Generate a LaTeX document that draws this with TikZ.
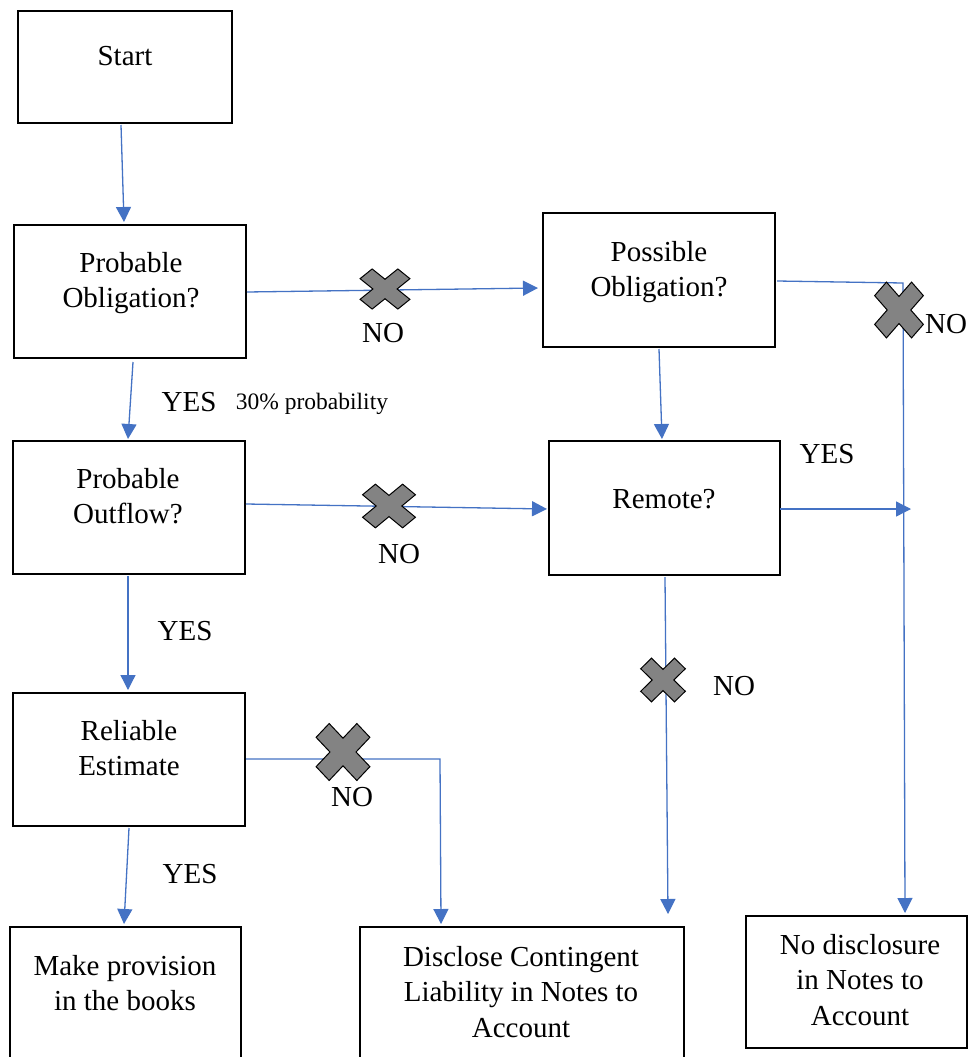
\documentclass[tikz,border=0pt]{standalone}
\usepackage{fontspec}
\setmainfont{Liberation Serif}
\usetikzlibrary{arrows.meta,calc}
\definecolor{conblue}{HTML}{4472C4}
\definecolor{crossgray}{HTML}{838383}
\newcommand{\ml}[1]{\begin{tabular}[t]{@{}c@{}}#1\end{tabular}}
\tikzset{
  box/.style={draw=black, line width=2.6pt, rectangle, outer sep=0pt, inner sep=0pt, fill=white},
  btxt/.style={anchor=base, inner sep=0pt, font=\fontsize{29}{35.5}\selectfont},
  lbl/.style={anchor=base, inner sep=0pt, font=\fontsize{29}{35}\selectfont},
  smalllbl/.style={anchor=base, inner sep=0pt, font=\fontsize{23.5}{28}\selectfont},
  conn/.style={draw=conblue, line width=1.3pt},
  arr/.style={conn, -{Triangle[length=15pt,width=15pt]}},
  nocross/.pic={
    \filldraw[fill=crossgray, draw=black, line width=1pt, rotate=45]
      (0.32,1) -- (0.32,0.32) -- (1,0.32) -- (1,-0.32) -- (0.32,-0.32) -- (0.32,-1)
      -- (-0.32,-1) -- (-0.32,-0.32) -- (-1,-0.32) -- (-1,0.32) -- (-0.32,0.32) -- (-0.32,1) -- cycle;
  }
}
\begin{document}
\begin{tikzpicture}[x=1pt,y=-1pt]
\useasboundingbox (0,0) rectangle (970,1057);
\clip (0,0) rectangle (970,1057);
\fill[white] (0,0) rectangle (970,1057);

% boxes
\node[box, minimum width=214pt, minimum height=112pt] (start) at (125,67) {};
\node[box, minimum width=232pt, minimum height=133pt] (po) at (130,291.5) {};
\node[box, minimum width=232pt, minimum height=134pt] (pso) at (659,280) {};
\node[box, minimum width=232pt, minimum height=133pt] (pout) at (129,507.5) {};
\node[box, minimum width=231pt, minimum height=134pt] (rem) at (664.5,508) {};
\node[box, minimum width=232pt, minimum height=133pt] (rel) at (129,759.5) {};
\node[box, minimum width=231pt, minimum height=153pt] (mk) at (125.5,1003.5) {};
\node[box, minimum width=324pt, minimum height=153pt] (dis) at (522,1003.5) {};
\node[box, minimum width=221pt, minimum height=132pt] (nod) at (856.5,982) {};

% box texts
\node[btxt] (start-t) at (125,66) {Start};
\node[btxt] (po-t) at (131,272) {\ml{Probable\\Obligation?}};
\node[btxt] (pso-t) at (659,261) {\ml{Possible\\Obligation?}};
\node[btxt] (pout-t) at (128,488) {\ml{Probable\\Outflow?}};
\node[btxt] (rem-t) at (664,508) {Remote?};
\node[btxt] (rel-t) at (129,740) {\ml{Reliable\\Estimate}};
\node[btxt] (mk-t) at (125,975) {\ml{Make provision\\in the books}};
\node[btxt] (dis-t) at (521,966) {\ml{Disclose Contingent\\Liability in Notes to\\Account}};
\node[btxt] (nod-t) at (860,954) {\ml{No disclosure\\in Notes to\\Account}};

% connector corners
\coordinate (c1) at (903,283);
\coordinate (yesend) at (911,509);
\coordinate (c2) at (440,759);

% connectors
\draw[arr] ($(start.south)+(-4,2)$) -- ($(po.north)+(-6,-3)$);
\draw[arr] ($(po.east)+(1,0.5)$) -- ($(pso.west)+(-5,8)$);
\draw[arr] ($(po.south)+(3,4)$) -- ($(pout.north)+(-1,-2)$);
\draw[arr] ($(pso.south)+(0,2)$) -- ($(rem.north)+(-2.5,-2)$);
\draw[arr] ($(pso.east)+(2,1)$) -- (c1) -- ($(nod.north)+(48.5,-3)$);
\draw[arr] ($(pout.east)+(1,-3.5)$) -- ($(rem.west)+(-2,1)$);
\draw[arr] ($(rem.east)+(0,1)$) -- (yesend);
\draw[arr] ($(rem.south)+(0.5,2)$) -- ($(dis.north)+(146,-13)$);
\draw[arr] ($(pout.south)+(-1,2)$) -- ($(rel.north)+(-1,-3)$);
\draw[arr] ($(rel.east)+(1,-0.5)$) -- (c2) -- ($(dis.north)+(-81,-3)$);
\draw[arr] ($(rel.south)+(0,2)$) -- ($(mk.north)+(-1.5,-3)$);

% crosses
\pic[xscale=26.7, yscale=21.5] at (385,289) {nocross};
\pic[xscale=26.1, yscale=29.9] at (899,310) {nocross};
\pic[xscale=28.3, yscale=23.4] at (389,506) {nocross};
\pic[xscale=23.9, yscale=23.4] at (663,680) {nocross};
\pic[xscale=28.8, yscale=30.5] at (343,752) {nocross};

% labels
\node[lbl] (no1) at (383,342) {NO};
\node[lbl] (yes1) at (189,411) {YES};
\node[smalllbl] (prob) at (312,409) {30\% probability};
\node[lbl] (no2) at (946,333) {NO};
\node[lbl] (yes2) at (827,463) {YES};
\node[lbl] (no3) at (399,563) {NO};
\node[lbl] (yes3) at (185,640) {YES};
\node[lbl] (no4) at (734,695) {NO};
\node[lbl] (no5) at (352,806) {NO};
\node[lbl] (yes4) at (190,883) {YES};
\end{tikzpicture}
\end{document}
